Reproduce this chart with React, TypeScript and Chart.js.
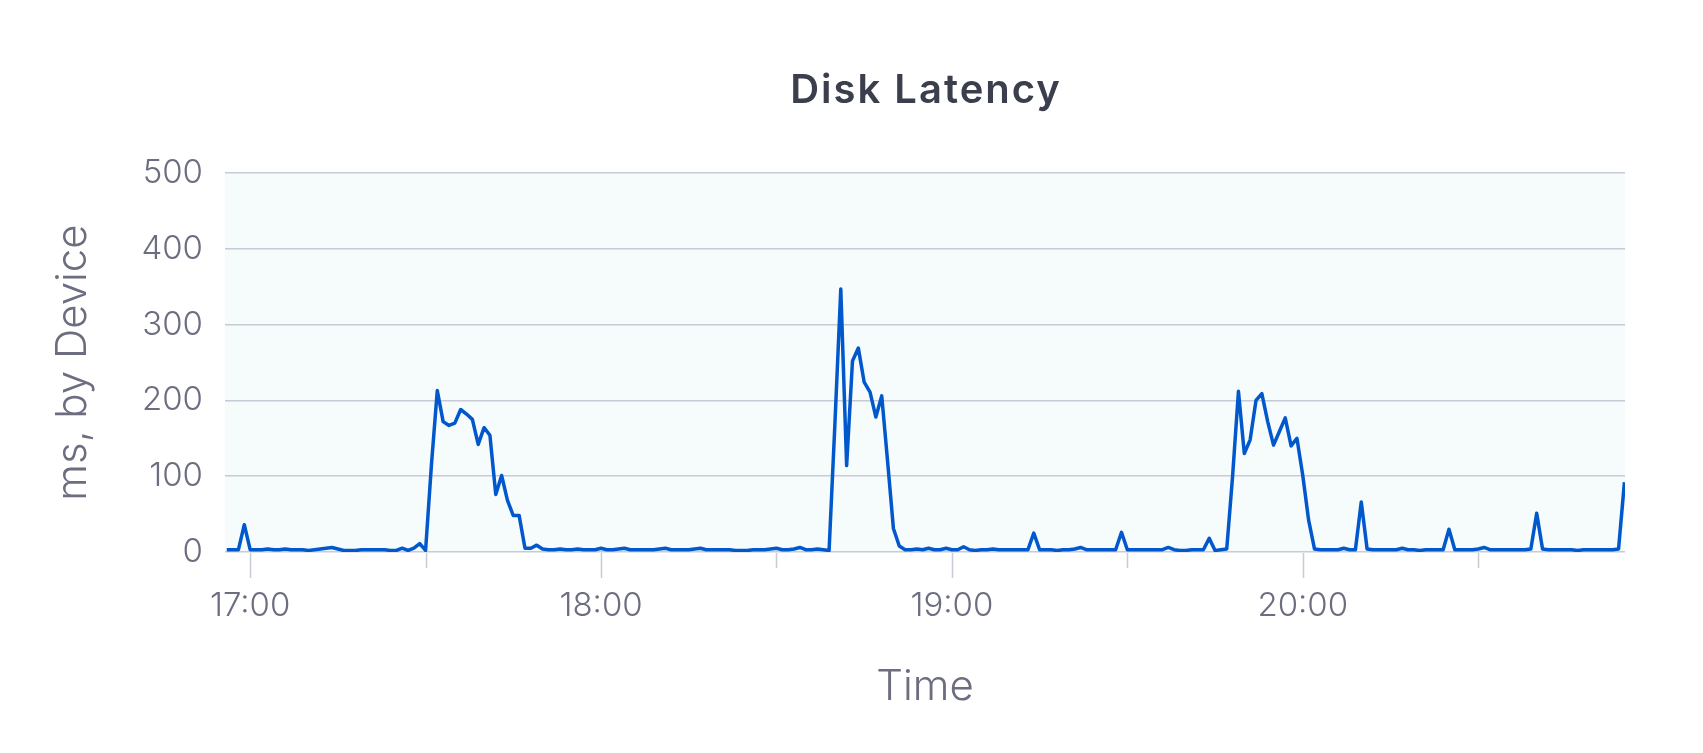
import React, { useEffect, useRef } from 'react';
import { Chart, registerables } from 'chart.js';

Chart.register(...registerables);

// ---- text ----
const TITLE = 'Disk Latency';
const Y_TITLE = 'ms, by Device';
const X_TITLE = 'Time';

// ---- data: one sample per minute, starting 16:56 (minutes relative to 17:00) ----
const START_MINUTE = -4;
const STEP_MINUTES = 1;
const latencyMs: number[] = [
  3, 3, 3, 36, 3, 3, 3, 4, 3, 3,
  4, 3, 3, 3, 2, 3, 4, 5, 6, 4,
  2, 2, 2, 3, 3, 3, 3, 3, 2, 2,
  5, 2, 5, 11, 2, 115, 213, 172, 167, 170,
  188, 182, 175, 142, 164, 154, 76, 101, 68, 48,
  48, 5, 5, 9, 4, 3, 3, 4, 3, 3,
  4, 3, 3, 3, 5, 3, 3, 4, 5, 3,
  3, 3, 3, 3, 4, 5, 3, 3, 3, 3,
  4, 5, 3, 3, 3, 3, 3, 2, 2, 2,
  3, 3, 3, 4, 5, 3, 3, 4, 6, 3,
  3, 4, 3, 2, 170, 347, 114, 252, 269, 224,
  211, 178, 206, 120, 31, 8, 3, 3, 4, 3,
  5, 3, 3, 5, 3, 3, 7, 3, 2, 3,
  3, 4, 3, 3, 3, 3, 3, 3, 25, 3,
  3, 3, 2, 3, 3, 4, 6, 3, 3, 3,
  3, 3, 3, 26, 3, 3, 3, 3, 3, 3,
  3, 6, 3, 2, 2, 3, 3, 3, 18, 2,
  3, 4, 100, 212, 130, 148, 200, 209, 172, 141,
  159, 177, 140, 150, 101, 42, 4, 3, 3, 3,
  3, 5, 3, 3, 66, 4, 3, 3, 3, 3,
  3, 5, 3, 3, 2, 3, 3, 3, 3, 30,
  3, 3, 3, 3, 4, 6, 3, 3, 3, 3,
  3, 3, 3, 4, 51, 4, 3, 3, 3, 3,
  3, 2, 3, 3, 3, 3, 3, 3, 4, 92,
];
const sampleMinutes: number[] = latencyMs.map((_, i) => START_MINUTE + i * STEP_MINUTES);

// ---- axes ----
const X_MIN = -4.3;
const X_MAX = 235.1;
const xTickMinutes = [0, 30, 60, 90, 120, 150, 180, 210];
const xTickLabels = ['17:00', '', '18:00', '', '19:00', '', '20:00', ''];
const Y_MIN = 0;
const Y_MAX = 500;
const Y_STEP = 100;

const FONT = 'Inter, "Noto Sans", "DejaVu Sans", sans-serif';

const plotDecor = {
  id: 'plotDecor',
  beforeDraw(chart: any) {
    const { ctx, chartArea: a } = chart;
    ctx.save();
    ctx.fillStyle = '#f6fbfc';
    ctx.fillRect(a.left, a.top, a.right - a.left, a.bottom - a.top);
    ctx.restore();
  },
  afterDraw(chart: any) {
    const { ctx, chartArea: a } = chart;
    const xs = chart.scales.x;
    ctx.save();
    ctx.strokeStyle = '#c8cbd5';
    ctx.lineWidth = 1.5;
    xTickMinutes.forEach((m, i) => {
      const px = Math.round(xs.getPixelForValue(m)) + 0.5;
      const len = xTickLabels[i] ? 26 : 16;
      ctx.beginPath();
      ctx.moveTo(px, a.bottom + 1);
      ctx.lineTo(px, a.bottom + len);
      ctx.stroke();
    });
    // chart title, centred over the plot area
    ctx.fillStyle = '#3b3f4d';
    ctx.font = `600 40px ${FONT}`;
    ctx.textAlign = 'center';
    ctx.textBaseline = 'middle';
    try { (ctx as any).letterSpacing = '2px'; } catch (e) { /* ignore */ }
    ctx.fillText(TITLE, (a.left + a.right) / 2 + 1, 90.5);
    ctx.restore();
  },
};

export default function App() {
  const ref = useRef<HTMLCanvasElement | null>(null);

  useEffect(() => {
    if (!ref.current) return;
    const chart = new Chart(ref.current, {
      type: 'line',
      data: {
        datasets: [
          {
            label: TITLE,
            data: latencyMs.map((v, i) => ({ x: sampleMinutes[i], y: v })),
            borderColor: '#0058cc',
            borderWidth: 3.5,
            pointRadius: 0,
            tension: 0,
            fill: false,
            borderJoinStyle: 'round',
          },
        ],
      },
      options: {
        responsive: false,
        animation: false,
        events: [],
        layout: { padding: { top: 173, left: 0, right: 78, bottom: 0 } },
        plugins: {
          legend: { display: false },
          tooltip: { enabled: false },
          title: { display: false },
        },
        scales: {
          x: {
            type: 'linear',
            min: X_MIN,
            max: X_MAX,
            afterBuildTicks: (scale: any) => {
              scale.ticks = xTickMinutes.map((v) => ({ value: v }));
            },
            afterFit: (scale: any) => {
              scale.height = 201;
            },
            grid: { display: false, drawTicks: false },
            border: { display: false },
            ticks: {
              autoSkip: false,
              maxRotation: 0,
              padding: 34,
              color: '#6c6e80',
              font: { family: FONT, size: 33, weight: '300', lineHeight: 1.2 },
              callback: (value: any) => {
                const k = xTickMinutes.indexOf(Number(value));
                return k >= 0 ? xTickLabels[k] : '';
              },
            },
            title: {
              display: true,
              text: X_TITLE,
              color: '#6c6e80',
              font: { family: FONT, size: 42, weight: '300', lineHeight: 1.2 },
              padding: { top: 0, bottom: 40 },
            },
          },
          y: {
            type: 'linear',
            min: Y_MIN,
            max: Y_MAX,
            afterFit: (scale: any) => {
              scale.width = 225;
            },
            grid: { color: '#c8cbd5', lineWidth: 1.5, drawTicks: false },
            border: { display: false },
            ticks: {
              stepSize: Y_STEP,
              padding: 22,
              color: '#6c6e80',
              font: { family: FONT, size: 33, weight: '300', lineHeight: 1.2 },
            },
            title: {
              display: true,
              text: Y_TITLE,
              color: '#6c6e80',
              font: { family: FONT, size: 42, weight: '300', lineHeight: 1.2 },
              padding: { top: 48, bottom: 0 },
            },
          },
        },
      },
      plugins: [plotDecor],
    } as any);
    return () => chart.destroy();
  }, []);

  return (
    <div style={{ position: 'absolute', left: 0, top: 0, width: 1703, height: 753, background: '#ffffff' }}>
      <canvas ref={ref} width={1703} height={753} style={{ display: 'block' }} />
    </div>
  );
}
